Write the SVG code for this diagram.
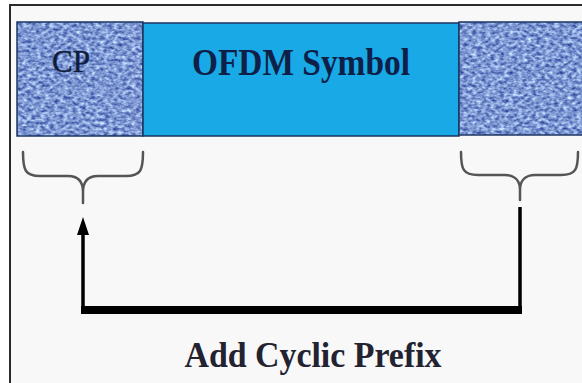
<svg xmlns="http://www.w3.org/2000/svg" width="582" height="383" viewBox="0 0 582 383">
<defs>
<style>
.frame{stroke:#2b2b2b;stroke-width:2;fill:none}
.box{stroke:#1d3560;stroke-width:1.5;fill:none}
.brace{stroke:#555;stroke-width:2.5;fill:none;stroke-linecap:round}
.conn{stroke:#000;fill:none}
.t{font-family:"Liberation Serif","Times New Roman",serif;fill:#15244a}
</style>
<filter id="tex" x="0" y="0" width="1" height="1" color-interpolation-filters="sRGB">
<feTurbulence type="fractalNoise" baseFrequency="0.22 0.32" numOctaves="2" seed="7" result="n"/>
<feColorMatrix in="n" type="matrix" values="0.95 0 0 0 0.02  0.95 0 0 0 0.12  0.65 0 0 0 0.5  0 0 0 0 1"/>
</filter>
<marker id="ah" viewBox="0 0 18 12" refX="10" refY="6" markerWidth="18" markerHeight="12" markerUnits="userSpaceOnUse" orient="auto">
<path d="M0,0 L18,6 L0,12 Z" fill="#000"/>
</marker>
</defs>
<rect x="0" y="0" width="582" height="383" fill="#ffffff"/>
<rect x="10" y="5" width="572" height="378" fill="#f8f8f8"/>
<path class="frame" d="M10,383 L10,5 L582,5"/>

<g id="cp">
<rect x="17" y="22" width="126" height="114" fill="#7b95cf" filter="url(#tex)"/>
<rect class="box" x="17" y="22" width="126" height="114"/>
<text class="t" x="71" y="72" font-size="31" text-anchor="middle" style="fill:#101c3c;stroke:#101c3c;stroke-width:0.5">CP</text>
</g>

<g id="ofdm">
<rect x="143" y="23" width="316" height="113" fill="#18a9e6"/>
<rect class="box" x="143" y="23" width="316" height="113"/>
<text class="t" x="301" y="75" font-size="34" font-weight="bold" text-anchor="middle" textLength="218" lengthAdjust="spacingAndGlyphs" style="fill:#0f2048" transform="translate(0,75) scale(1,1.1) translate(0,-75)">OFDM Symbol</text>
</g>

<g id="tail">
<rect x="459" y="22" width="124" height="113" fill="#7b95cf" filter="url(#tex)"/>
<rect class="box" x="459" y="22" width="124" height="113"/>
</g>

<g id="brace-left">
<path class="brace" d="M23,152 C23,170 25,176 40,176 L68,176 C78,176 83,182 83,192 L83,203 M143,152 C143,170 141,176 126,176 L98,176 C88,176 83,182 83,192"/>
</g>

<g id="brace-right">
<path class="brace" d="M461,152 C461,169 463,175 478,175 L505,175 C515,175 520,181 520,190 L520,200 M578,152 C578,169 576,175 561,175 L535,175 C525,175 520,181 520,190"/>
</g>

<g id="connectors">
<path class="conn" stroke-width="3.5" d="M520,207 L520,310"/>
<path class="conn" stroke-width="8" d="M81,310 L522,310"/>
<path class="conn" stroke-width="3.5" d="M83,312 L83,225" marker-end="url(#ah)"/>
</g>

<g id="label">
<text class="t" x="313" y="367" font-size="34" font-weight="bold" text-anchor="middle" style="fill:#222230" textLength="257" lengthAdjust="spacingAndGlyphs" transform="translate(0,367) scale(1,1.06) translate(0,-367)">Add Cyclic Prefix</text>
</g>
</svg>
